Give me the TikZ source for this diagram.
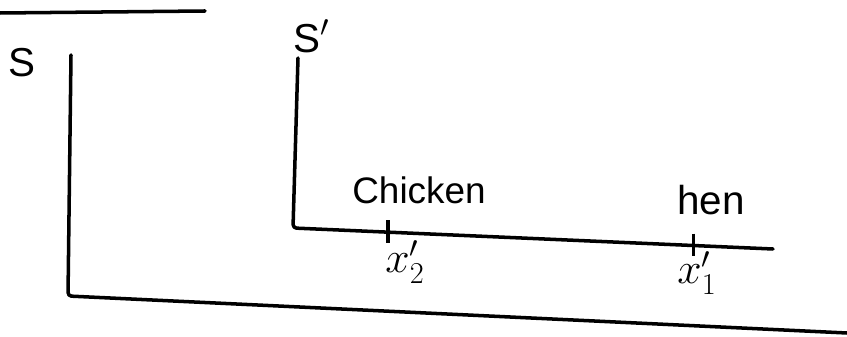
\documentclass[tikz,border=0pt]{standalone}
\usepackage{fontspec}
\setmainfont{Liberation Sans}
\usetikzlibrary{
  calc,
  positioning
}
\tikzset{
  frameline/.style={line width=2pt,line cap=round,line join=round,draw=black},
  tickline/.style={line width=1.8pt,draw=black},
  framelabel/.style={font=\fontsize{23}{26}\selectfont,inner sep=0pt},
  eventlabel/.style={font=\fontsize{21}{24}\selectfont,inner sep=0pt},
  poslabel/.style={font=\fontsize{27}{30}\selectfont,inner sep=0pt}
}

\begin{document}
\begin{tikzpicture}[x=0.02cm,y=-0.02cm]
\useasboundingbox (0,0) rectangle (847,337);
% heading underline
\coordinate (ul) at (0,13);
\coordinate (ur) at (205,11);
\draw[frameline] (ul) -- (ur);
% frame S
\coordinate (st) at (71,55);
\coordinate (sc) at (68,296);
\coordinate (se) at (847,333);
\draw[frameline,rounded corners=2pt] (st) -- (sc) -- (se);
\node[framelabel] (s) at (22,63) {S};
% frame S'
\coordinate (pt) at (298,58);
\coordinate (pc) at (293,228);
\coordinate (pe) at (773,249);
\draw[frameline,rounded corners=2pt] (pt) -- (pc) -- (pe);
\node[framelabel] (p) at (312,36) {S$'$};
% events on the S' axis
\coordinate (x2) at ($(pc)!0.198!(pe)$);
\coordinate (x1) at ($(pc)!0.835!(pe)$);
\draw[tickline] ([yshift=0.24cm]x2) -- ([yshift=-0.22cm]x2);
\draw[tickline] ([yshift=0.24cm]x1) -- ([yshift=-0.2cm]x1);
\node[eventlabel] (chicken) at (419,190) {Chicken};
\node[eventlabel,font=\fontsize{23}{26}\selectfont] (hen) at (711,200) {hen};
\node[poslabel] (x2l) at (405,262) {$x_2'$};
\node[poslabel] (x1l) at (697,273) {$x_1'$};
\end{tikzpicture}
\end{document}
